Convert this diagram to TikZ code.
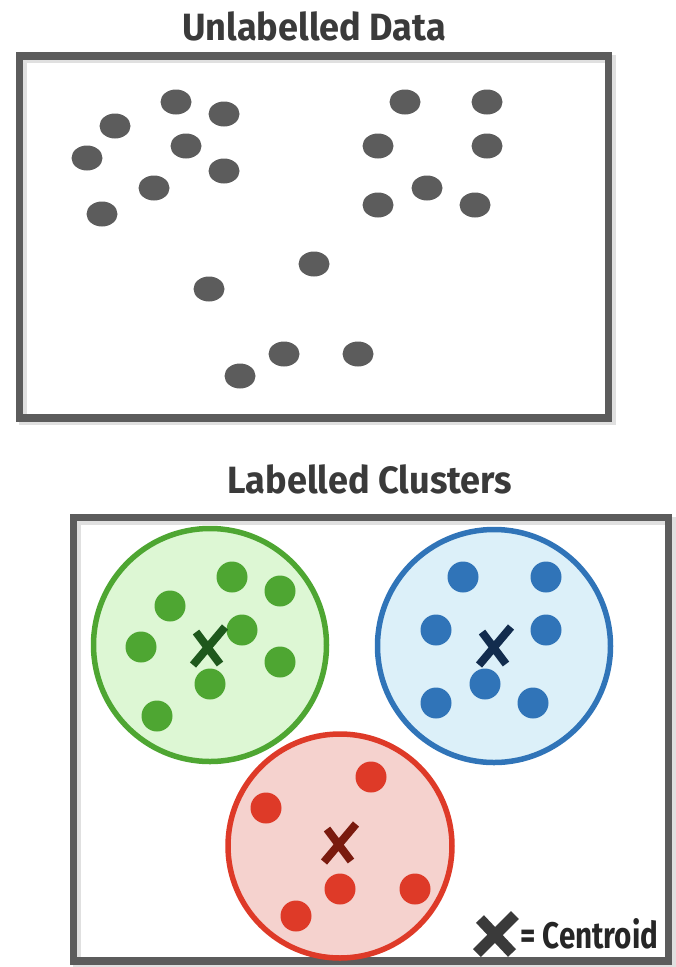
\documentclass[tikz,border=0pt]{standalone}
\usepackage{fontspec}
\newfontfamily\titlefont{Fira Sans}[FakeStretch=0.95]
\newfontfamily\legendfont{Fira Sans}[FakeStretch=0.8]
\usetikzlibrary{positioning}

\definecolor{framegray}{RGB}{92,92,92}
\definecolor{textgray}{RGB}{58,58,58}
\definecolor{dotgray}{RGB}{92,92,92}
\definecolor{grline}{RGB}{78,166,50}
\definecolor{grfill}{RGB}{221,247,212}
\definecolor{grdark}{RGB}{30,88,28}
\definecolor{blline}{RGB}{48,116,184}
\definecolor{blfill}{RGB}{220,240,249}
\definecolor{bldark}{RGB}{18,44,78}
\definecolor{rdline}{RGB}{222,58,40}
\definecolor{rdfill}{RGB}{245,210,206}
\definecolor{rddark}{RGB}{122,26,14}

\begin{document}
\begin{tikzpicture}[
  x=1pt, y=-1pt,
  frame/.style={line width=7.5pt, draw=framegray},
  frameshade/.style={line width=8pt, draw=black, opacity=0.12},
  title/.style={font=\titlefont\bfseries\fontsize{38}{38}\selectfont, text=textgray, inner sep=0pt},
  cluster/.style={circle, inner sep=0pt, line width=5.5pt},
  xmark/.style={line width=8pt, line cap=butt}
]

\useasboundingbox (0,0) rectangle (676,967);

% unlabelled data
\draw[frameshade] (22.5,59) rectangle (611.5,421);
\draw[frame] (19.5,56) rectangle (608.5,418);
\node[title] (top) at (314,26) {Unlabelled Data};

\foreach \x/\y in {176/102, 224/114, 115/126, 186/146, 87/158, 224/171, 154/188, 102/214,
                   405/102, 487/102, 378/146, 487/146, 427/188, 378/205, 475/205,
                   314/264, 209/289, 284/354, 358/354, 240/376}
  \fill[dotgray] (\x,\y) ellipse[x radius=15.5pt, y radius=12.5pt];

% labelled clusters
\draw[frameshade] (76.5,520.5) rectangle (671.5,964);
\draw[frame] (73.5,517.5) rectangle (668.5,961);
\node[title] (bottom) at (370,479) {Labelled Clusters};

\node[cluster, draw=grline, fill=grfill, minimum size=233pt] (green) at (210,645) {};
\node[cluster, draw=blline, fill=blfill, minimum size=233pt] (blue) at (494,646) {};
\node[cluster, draw=rdline, fill=rdfill, minimum size=224pt] (red) at (340,846) {};

\foreach \x/\y in {232/577, 280/591, 170/606, 242/630, 141/647, 280/662, 210/684, 157/716}
  \fill[grline] (\x,\y) circle[radius=15.5pt];
\foreach \x/\y in {463/577, 546/577, 436/630, 546/630, 485/684, 436/703, 533/703}
  \fill[blline] (\x,\y) circle[radius=15.5pt];
\foreach \x/\y in {371/777, 266/808, 340/889, 415/889, 296/916}
  \fill[rdline] (\x,\y) circle[radius=15.5pt];

\coordinate (gc) at (209,647);
\coordinate (bc) at (495,647);
\coordinate (rc) at (340,844);
\draw[xmark, grdark] (gc) ++(-16,18) -- ++(32,-38) (gc) ++(-13,-15) -- ++(24,32);
\draw[xmark, bldark] (bc) ++(-16,18) -- ++(32,-38) (bc) ++(-13,-15) -- ++(24,32);
\draw[xmark, rddark] (rc) ++(-16,18) -- ++(32,-38) (rc) ++(-13,-15) -- ++(24,32);

% legend
\coordinate (lx) at (496,935);
\draw[line width=11pt, textgray] (lx) ++(-19,18) -- ++(38,-38) (lx) ++(-16,-16) -- ++(32,34);
\node[font=\legendfont\bfseries\fontsize{37}{37}\selectfont, text=black!85, inner sep=0pt, anchor=west] (legend) at (520,934) {= Centroid};

\end{tikzpicture}
\end{document}
